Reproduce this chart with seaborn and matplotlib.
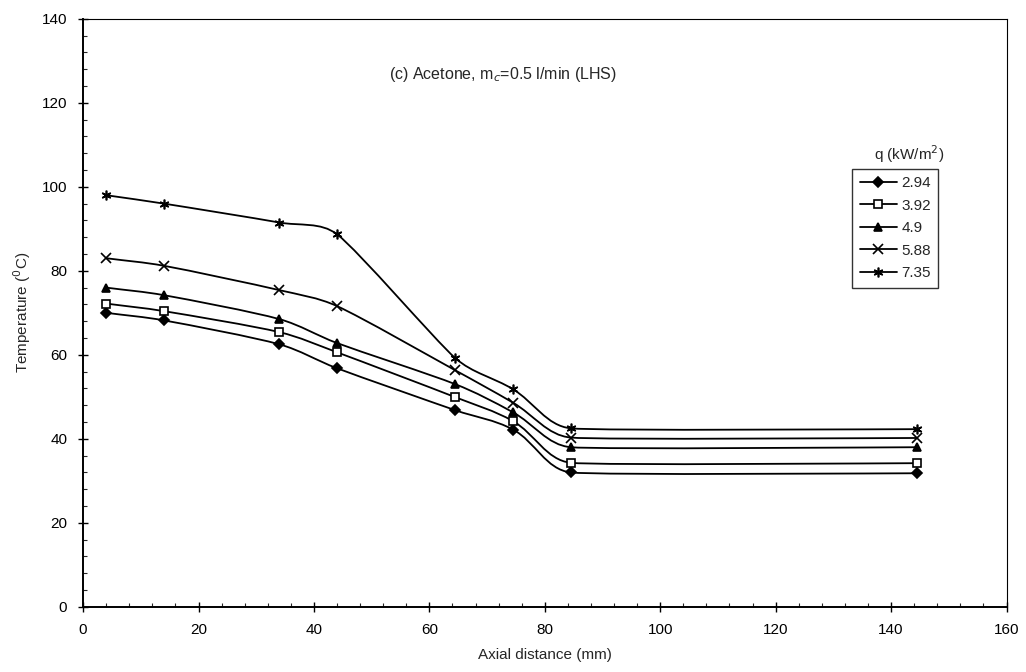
import numpy as np
import pandas as pd
import matplotlib
matplotlib.use("Agg")
import matplotlib.pyplot as plt
from matplotlib.path import Path
from matplotlib.patches import PathPatch
from matplotlib.lines import Line2D
from matplotlib.ticker import MultipleLocator
import seaborn as sns

# axial positions (mm)
axial = [4, 14, 34, 44, 64.5, 74.5, 84.5, 144.5]

# temperatures (deg C) per heat flux q (kW/m2)
q_labels = ["2.94", "3.92", "4.9", "5.88", "7.35"]
t_294 = [70.0, 68.2, 62.5, 56.8, 46.8, 42.2, 32.0, 31.8]
t_392 = [72.2, 70.4, 65.4, 60.6, 49.9, 44.2, 34.3, 34.2]
t_490 = [76.0, 74.2, 68.5, 62.8, 53.0, 46.3, 38.0, 38.0]
t_588 = [83.0, 81.2, 75.4, 71.6, 56.3, 48.6, 40.3, 40.2]
t_735 = [98.0, 96.0, 91.5, 88.7, 59.2, 51.8, 42.5, 42.3]

series = [t_294, t_392, t_490, t_588, t_735]
markers = ["D", "s", "^", "x", (6, 2, 0)]
filled = [True, False, True, True, True]
msizes = [5, 6, 6, 7, 7]

df = pd.concat(
    [pd.DataFrame({"x": axial, "T": s, "q": lab}) for lab, s in zip(q_labels, series)],
    ignore_index=True,
)

# rough screen scale (px per data unit) so the smoothing looks like Excel's
SX, SY = 5.78, 4.19


def smooth_path(xs, ys, s=0.35, cap=28.0):
    # smoothed line: tangent follows neighbours, handle length follows segment length
    p = np.column_stack([np.asarray(xs) * SX, np.asarray(ys) * SY]).astype(float)
    n = len(p)
    d = np.zeros_like(p)
    for i in range(n):
        v = p[min(i + 1, n - 1)] - p[max(i - 1, 0)]
        d[i] = v / np.linalg.norm(v)
    verts = [p[0]]
    codes = [Path.MOVETO]
    for i in range(n - 1):
        h = min(np.linalg.norm(p[i + 1] - p[i]) * s, cap)
        verts += [p[i] + d[i] * h, p[i + 1] - d[i + 1] * h, p[i + 1]]
        codes += [Path.CURVE4] * 3
    verts = np.array(verts) / [SX, SY]
    return Path(verts, codes)


sns.set_style("ticks")
plt.rcParams["font.family"] = ["Liberation Sans", "DejaVu Sans"]

fig = plt.figure(figsize=(10.26, 6.72), dpi=100)
ax = fig.add_axes([0.081, 0.097, 0.9, 0.875])

handles = []
for lab, mk, fl, ms in zip(q_labels, markers, filled, msizes):
    sub = df[df["q"] == lab]
    ax.add_patch(PathPatch(smooth_path(sub["x"], sub["T"]), facecolor="none",
                           edgecolor="black", lw=1.3, zorder=2))
    sns.lineplot(data=sub, x="x", y="T", ax=ax, linestyle="", marker=mk,
                 markersize=ms, color="black",
                 markerfacecolor="black" if fl else "white",
                 markeredgecolor="black", markeredgewidth=1.2, zorder=3,
                 legend=False)
    handles.append(Line2D([0], [0], color="black", lw=1.3, marker=mk,
                          markersize=ms,
                          markerfacecolor="black" if fl else "white",
                          markeredgecolor="black", markeredgewidth=1.2, label=lab))

ax.set_xlim(0, 160)
ax.set_ylim(0, 140)
ax.xaxis.set_major_locator(MultipleLocator(20))
ax.yaxis.set_major_locator(MultipleLocator(20))
ax.xaxis.set_minor_locator(MultipleLocator(4))
ax.yaxis.set_minor_locator(MultipleLocator(4))
ax.tick_params(which="major", direction="inout", length=7, width=1, labelsize=11,
               colors="black", pad=8)
ax.tick_params(which="minor", direction="in", length=3, width=0.8)
for side, sp in ax.spines.items():
    sp.set_visible(True)
    sp.set_color("black")
    sp.set_linewidth(1.4 if side in ("left", "bottom") else 0.8)

ax.set_xlabel("Axial distance (mm)", fontsize=11, labelpad=8)
ax.set_ylabel("Temperature ($^{0}$C)", fontsize=11, labelpad=6)

ax.text(0.455, 0.905, "(c) Acetone, m$_c$=0.5 l/min (LHS)", transform=ax.transAxes,
        ha="center", va="center", fontsize=11.5)
ax.text(0.895, 0.77, "q (kW/m$^2$)", transform=ax.transAxes,
        ha="center", va="center", fontsize=11)

leg = ax.legend(handles=handles, loc="upper left", bbox_to_anchor=(0.833, 0.745),
                frameon=True, fancybox=False, fontsize=11, handlelength=2.4,
                handletextpad=0.3, labelspacing=0.55, borderpad=0.5,
                borderaxespad=0)
leg.get_frame().set_edgecolor("black")
leg.get_frame().set_linewidth(1.0)

fig.savefig("out.png", dpi=100, facecolor="white")
